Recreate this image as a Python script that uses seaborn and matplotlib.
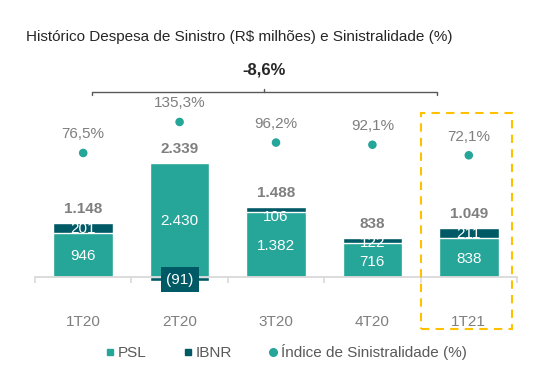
import numpy as np
import pandas as pd
import seaborn as sns
import matplotlib.pyplot as plt
import matplotlib.transforms as mtransforms
from matplotlib.patches import Rectangle
from matplotlib.lines import Line2D

quarters = ["1T20", "2T20", "3T20", "4T20", "1T21"]
psl = [946, 2430, 1382, 716, 838]
ibnr = [201, -91, 106, 122, 211]
totals = [1148, 2339, 1488, 838, 1049]
ratio = [76.5, 135.3, 96.2, 92.1, 72.1]
growth_label = "-8,6%"

PSL_COLOR = "#26A599"
IBNR_COLOR = "#005A66"
GRAY = "#7F7F7F"
DARK = "#262626"


def br(v):
    # brazilian thousands separator
    return f"{v:,}".replace(",", ".")


sns.set_theme(style="white")
plt.rcParams["font.family"] = ["Liberation Sans", "DejaVu Sans"]

fig = plt.figure(figsize=(5.45, 3.79), dpi=100)
ax = fig.add_axes([35 / 545, 89 / 379, 482 / 545, 190 / 379])

df = pd.DataFrame({"quarter": quarters, "psl": psl, "ibnr": ibnr})
df["top"] = df["psl"] + df["ibnr"].clip(lower=0)
df["neg"] = df["ibnr"].clip(upper=0)

bw = 0.62
sns.barplot(data=df, x="quarter", y="top", color=IBNR_COLOR, saturation=1,
            width=bw, ax=ax)
sns.barplot(data=df, x="quarter", y="psl", color=PSL_COLOR, saturation=1,
            width=bw, ax=ax)
sns.barplot(data=df, x="quarter", y="neg", color=IBNR_COLOR, saturation=1,
            width=bw, ax=ax)

ax.set_xlim(-0.5, 4.5)
ax.set_ylim(-277, 3773)
ax.set_xlabel("")
ax.set_ylabel("")
ax.set_yticks([])
for s in ["left", "right", "top"]:
    ax.spines[s].set_visible(False)
ax.spines["bottom"].set_position(("data", 0))
ax.spines["bottom"].set_color("#D9D9D9")
ax.spines["bottom"].set_linewidth(1.3)
ax.set_xticks(range(len(quarters)))
ax.set_xticklabels(quarters)
ax.set_xticks(np.arange(-0.5, 4.6, 1), minor=True)
ax.tick_params(axis="x", which="major", length=0, pad=27, labelsize=11,
               labelcolor=GRAY)
ax.tick_params(axis="x", which="minor", bottom=True, length=4, width=1.2,
               color="#D9D9D9", direction="out")

# value labels
ibnr_dy = [-4, -4, -7, -4, -4.5]
for i in range(len(quarters)):
    ax.annotate(br(totals[i]), (i, df["top"][i]), xytext=(0, 10),
                textcoords="offset points", ha="center", va="center",
                fontsize=11, fontweight="bold", color=GRAY)
    ax.annotate(br(psl[i]), (i, psl[i] / 2), xytext=(0, -1),
                textcoords="offset points", ha="center", va="center",
                fontsize=11, color="white")
    if ibnr[i] > 0:
        ax.annotate(br(ibnr[i]), (i, df["top"][i]), xytext=(0, ibnr_dy[i]),
                    textcoords="offset points", ha="center", va="center",
                    fontsize=11, color="white")
    else:
        ax.annotate(f"({abs(ibnr[i])})", (i, ibnr[i] / 2), xytext=(0, -0.5),
                    textcoords="offset points", ha="center", va="center",
                    fontsize=11, color="white",
                    bbox=dict(boxstyle="square,pad=0.35", fc=IBNR_COLOR,
                              ec="none"))

# sinistralidade on a second scale
ax2 = ax.twinx()
sns.scatterplot(x=np.arange(len(quarters)), y=ratio, color=PSL_COLOR, s=38,
                edgecolor="none", ax=ax2, zorder=3)
ax2.set_ylim(-183.5, 177)
ax2.set_yticks([])
ax2.axis("off")
for i, r in enumerate(ratio):
    ax2.annotate(f"{r:.1f}%".replace(".", ","), (i, r), xytext=(0, 13.5),
                 textcoords="offset points", ha="center", va="center",
                 fontsize=11, color=GRAY)

# highlight box around last quarter
trans = mtransforms.blended_transform_factory(ax.transData, fig.transFigure)
ax.add_patch(Rectangle((3.5, 1 - 329 / 379), 0.95, (329 - 113) / 379,
                       transform=trans, fill=False, ec="#FFC000", lw=1.5,
                       ls=(0, (4, 3)), clip_on=False, zorder=5))

# growth bracket
yb = 1 - 92 / 379
tk = 3 / 379
ax.plot([0.09, 0.09, 3.67, 3.67], [yb - tk, yb, yb, yb - tk], color="#595959",
         lw=1, transform=trans, clip_on=False)
ax.plot([1.875, 1.875], [yb, yb + tk], color="#595959", lw=1, transform=trans,
        clip_on=False)
ax.text(1.875, 1 - 70 / 379, growth_label, transform=trans, ha="center",
        va="center", fontsize=12, fontweight="bold", color=DARK)

fig.text(26 / 545, 1 - 37 / 379,
         "Histórico Despesa de Sinistro (R$ milhões) e Sinistralidade (%)",
         ha="left", va="center", fontsize=11, color=DARK)

handles = [
    Line2D([], [], ls="none", marker="s", ms=5, color=PSL_COLOR),
    Line2D([], [], ls="none", marker="s", ms=5, color=IBNR_COLOR),
    Line2D([], [], ls="none", marker="o", ms=5.5, color=PSL_COLOR),
]
fig.legend(handles, ["PSL", "IBNR", "Índice de Sinistralidade (%)"],
           loc="center", bbox_to_anchor=(0.525, 1 - 352 / 379), ncol=3,
           frameon=False, handlelength=0.6, handletextpad=0.2,
           columnspacing=2.4, fontsize=11, labelcolor="#595959")

fig.savefig("out.png", dpi=100, facecolor="white")
